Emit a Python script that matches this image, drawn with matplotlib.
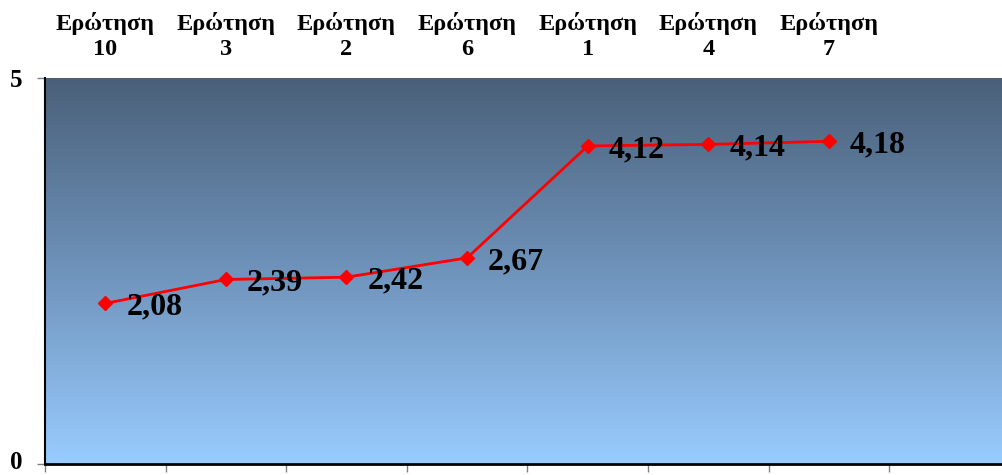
import numpy as np
import matplotlib
matplotlib.use("Agg")
import matplotlib.pyplot as plt
import matplotlib.transforms as mtransforms
from matplotlib.colors import LinearSegmentedColormap

categories = ["Ερώτηση\n10", "Ερώτηση\n3", "Ερώτηση\n2", "Ερώτηση\n6",
              "Ερώτηση\n1", "Ερώτηση\n4", "Ερώτηση\n7"]
values = [2.08, 2.39, 2.42, 2.67, 4.12, 4.14, 4.18]
value_labels = ["2,08", "2,39", "2,42", "2,67", "4,12", "4,14", "4,18"]
y_ticks = [0, 5]

plt.rcParams["font.family"] = ["Liberation Serif", "DejaVu Serif"]

W, H = 1003, 475
fig = plt.figure(figsize=(W / 100, H / 100), dpi=100)
left, right, top, bottom = 45, 1003, 78, 464
ax = fig.add_axes([left / W, (H - bottom) / H, (right - left) / W, (bottom - top) / H])

n_slots = len(categories) + 1
xmax = -0.5 + (right - left) / 120.6

# vertical gradient background
grad = np.linspace(0, 1, 256).reshape(-1, 1)
cmap = LinearSegmentedColormap.from_list("bg", ["#4a6079", "#6f93bb", "#99ccff"])
ax.imshow(grad, cmap=cmap, aspect="auto", extent=[-0.5, xmax, 0, 5],
          origin="upper", zorder=0, interpolation="bilinear")

x = np.arange(len(values))
ax.plot(x, values, color="#ff0000", lw=2, marker="D", markersize=7, zorder=3)

for xi, v, lab in zip(x, values, value_labels):
    ax.annotate(lab, (xi, v), xytext=(15, -8), textcoords="offset points",
                ha="left", va="baseline", fontsize=23, fontweight="bold",
                color="black", zorder=4)

for xi, cat in zip(x, categories):
    ax.annotate(cat, (xi, 1), xycoords=("data", "axes fraction"),
                xytext=(0, 13), textcoords="offset points",
                ha="center", va="bottom", fontsize=17.5, fontweight="bold",
                multialignment="center", linespacing=1.25, annotation_clip=False)

ax.set_xticks(np.arange(-0.5, n_slots, 1.0))
ax.set_xticklabels([])
ax.set_yticks(y_ticks)
ax.set_yticklabels([str(t) for t in y_ticks], fontsize=18, fontweight="bold")
ax.tick_params(axis="both", direction="out", length=6, width=1, color="#808080")
ax.tick_params(axis="y", pad=10)
ax.set_xlim(-0.5, xmax)
ax.set_ylim(0, 5)

# lift the bottom tick label slightly so it stays inside the figure
zero_label = ax.get_yticklabels()[0]
zero_label.set_transform(zero_label.get_transform() +
                         mtransforms.ScaledTranslation(0, 3 / 72, fig.dpi_scale_trans))

for s in ("top", "right"):
    ax.spines[s].set_visible(False)
ax.spines["left"].set_linewidth(1.5)
ax.spines["bottom"].set_linewidth(2)
ax.spines["left"].set_zorder(5)
ax.spines["bottom"].set_zorder(5)

fig.savefig("out.png", dpi=100)
